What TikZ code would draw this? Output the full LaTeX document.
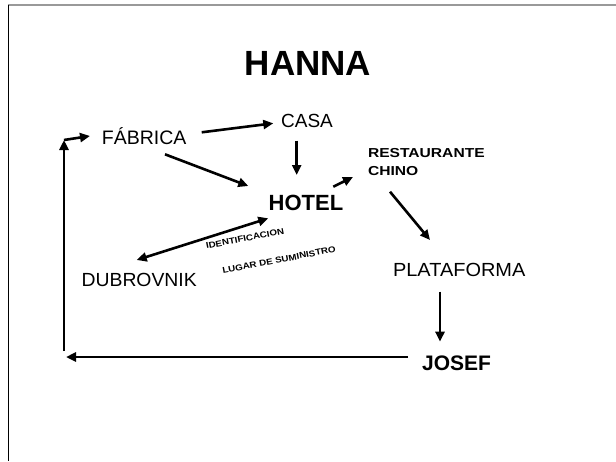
\documentclass[tikz,border=0pt]{standalone}
\usepackage{fontspec}
\usepackage{graphicx}
\setmainfont{Liberation Sans}
\usetikzlibrary{arrows.meta}
\tikzset{
  lbl/.style={inner sep=0pt, outer sep=0pt, anchor=base},
  arr/.style={line width=2.6pt, -{Triangle[length=10pt,width=9pt]}},
  darr/.style={line width=2.6pt, {Triangle[length=10pt,width=9pt]}-{Triangle[length=10pt,width=9pt]}},
  tinylbl/.style={inner sep=0pt, outer sep=0pt, rotate=11, font=\fontsize{8.5}{9}\selectfont\bfseries},
}
\begin{document}
\begin{tikzpicture}[x=1pt, y=-1pt]
\useasboundingbox (0,0) rectangle (616,461);
\fill[white] (0,0) rectangle (616,461);
% frame
\draw[gray!80, line width=2pt] (8,5) -- (616,5);
\draw[black, line width=1pt] (8,5) -- (8,461);

% nodes
\node[lbl, font=\fontsize{35}{35}\selectfont\bfseries] (hanna) at (308,75) {HANNA};
\node[lbl, font=\fontsize{19.5}{20}\selectfont] (fab) at (144.2,144) {FÁBRICA};
\node[lbl, font=\fontsize{19}{20}\selectfont] (casa) at (307,127.7) {CASA};
\node[lbl, font=\fontsize{22}{22}\selectfont\bfseries] (hotel) at (306,210.7) {HOTEL};
\node[inner sep=0pt, outer sep=0pt, anchor=north west, align=left, font=\fontsize{13}{18}\selectfont\bfseries] (rest) at (368,148.5) {\scalebox{1.2}[1]{RESTAURANTE}\\\scalebox{1.2}[1]{CHINO}};
\node[lbl, font=\fontsize{19}{20}\selectfont] (dub) at (139.2,286.7) {\scalebox{1.02}[1]{DUBROVNIK}};
\node[lbl, font=\fontsize{19}{20}\selectfont] (plat) at (459.2,276.7) {\scalebox{1.05}[1]{PLATAFORMA}};
\node[lbl, font=\fontsize{21}{21}\selectfont\bfseries] (josef) at (456.5,370) {JOSEF};
\node[tinylbl] (ident) at (245,238.5) {\scalebox{1.15}[1]{IDENTIFICACION}};
\node[tinylbl] (lugar) at (279,260) {\scalebox{1.15}[1]{LUGAR DE SUMINISTRO}};

\coordinate (c1) at (66,357);
\coordinate (c2) at (64,351);
\coordinate (c3) at (64,140);

% connectors
\draw[arr] ([shift={(57.5,-11.7)}]fab.base) -- ([shift={(-33.7,-4.4)}]casa.base);
\draw[arr] ([shift={(-10.3,13)}]casa.base) -- ([shift={(-9.3,-35.7)}]hotel.base);
\draw[arr] ([shift={(20.8,10.3)}]fab.base) -- ([shift={(-57.7,-24.7)}]hotel.base);
\draw[arr] ([shift={(27.3,-24)}]hotel.base) -- ([shift={(-15,28.5)}]rest.north west);
\draw[arr] ([shift={(22,43.2)}]rest.north west) -- ([shift={(-29.2,-36.7)}]plat.base);
\draw[darr] ([shift={(-2.5,-26.7)}]dub.base) -- ([shift={(-37.7,7.6)}]hotel.base);
\draw[arr] ([shift={(-19.2,15)}]plat.base) -- ([shift={(-16.5,-28.3)}]josef.base);
\draw[arr] ([shift={(-48.5,-13)}]josef.base) -- (c1);
\draw[arr] (c2) -- (c3);
\draw[arr] (c3) -- ([shift={(-54.2,-8)}]fab.base);
\end{tikzpicture}
\end{document}
